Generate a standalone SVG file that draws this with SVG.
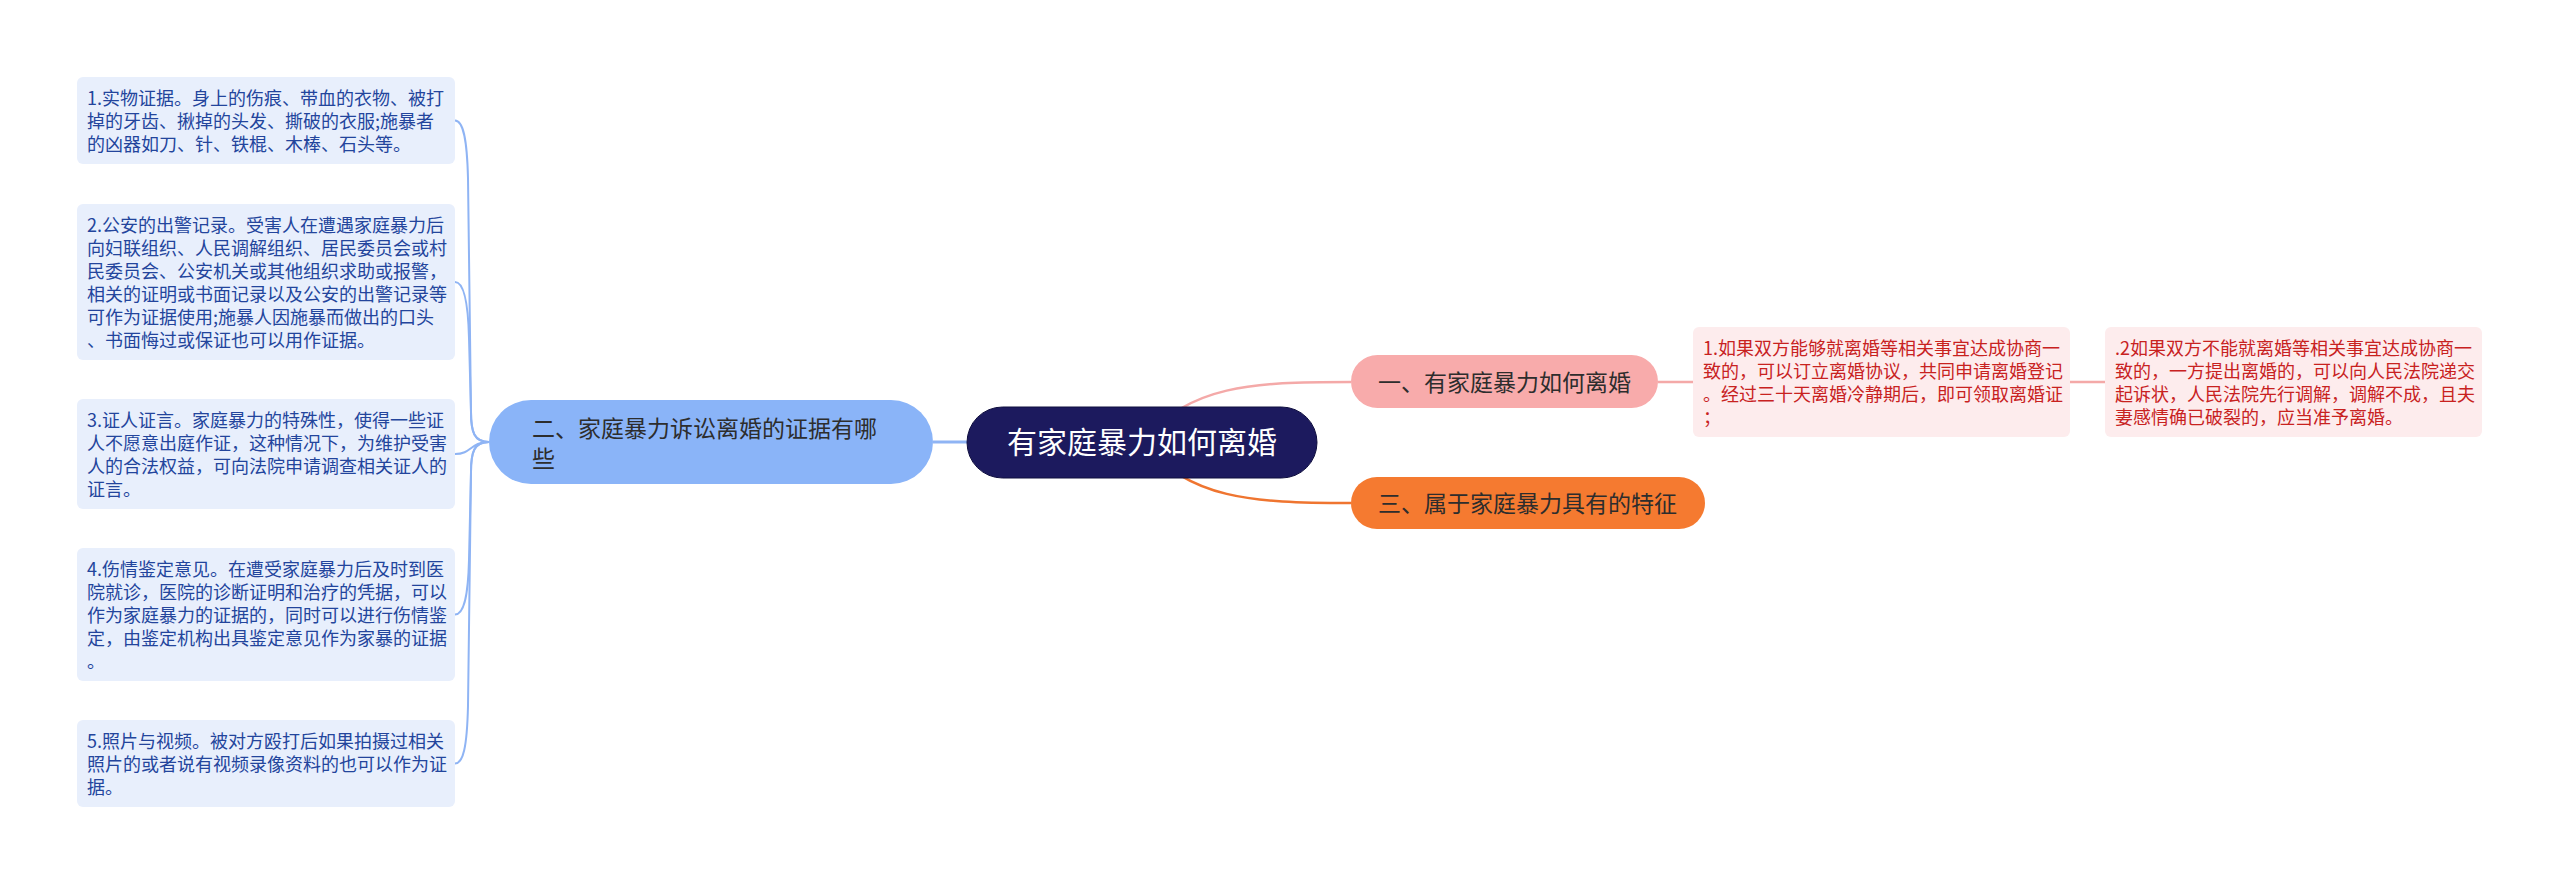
<svg xmlns="http://www.w3.org/2000/svg" width="2560" height="885" viewBox="0 0 2560 885">
<style>
text{font-family:"Noto Sans CJK SC","Noto Sans",sans-serif;}
.lbox{fill:#e8effc;}
.ltxt{font-size:18px;fill:#23459c;}
.rbox{fill:#fdeced;}
.rtxt{font-size:18px;fill:#c8221f;}
.sub{font-size:23px;fill:#2d2d2d;}
.cb{fill:none;stroke:#8fb4f4;stroke-width:2;}
.cp{fill:none;stroke:#f4a9a8;stroke-width:2.5;}
</style>
<rect width="2560" height="885" fill="#ffffff"/>
<g id="connectors">
<path class="cb" d="M489 442 C474 442,471 432,471 412 L468 178 C467 138,463 120.5,455 120.5"/>
<path class="cb" d="M489 442 C474 442,471 432,471 412 L469 338 C468 298,463 282,455 282"/>
<path class="cb" d="M489 442 C470 442,472 454,455 454"/>
<path class="cb" d="M489 442 C474 442,471 452,471 472 L469 560 C468 600,463 614.5,455 614.5"/>
<path class="cb" d="M489 442 C474 442,471 452,471 472 L468 706 C467 748,463 763.5,455 763.5"/>
<path fill="none" stroke="#8fb4f4" stroke-width="3" d="M933 442 L967 442"/>
<path class="cp" d="M1142 442 C1190 385,1250 382,1351 382"/>
<path fill="none" stroke="#ef7530" stroke-width="2.5" d="M1142 442 C1190 499,1250 503,1351 503"/>
<path class="cp" d="M1658 382 L1693 382"/>
<path class="cp" d="M2070 382 L2105 382"/>
</g>
<g id="center">
<rect x="967" y="407" width="350" height="71" rx="35.5" fill="#1c1a5e" stroke="#0f0e3e" stroke-width="1"/>
<text x="1142" y="453" font-size="30" fill="#ffffff" text-anchor="middle">有家庭暴力如何离婚</text>
</g>
<g id="node-er">
<rect x="489" y="400" width="444" height="84" rx="42" fill="#8ab4f8"/>
<text class="sub" x="532" y="437">二、家庭暴力诉讼离婚的证据有哪</text>
<text class="sub" x="532" y="467">些</text>
</g>
<g id="node-yi">
<rect x="1351" y="355" width="307" height="53" rx="26.5" fill="#f8abab"/>
<text class="sub" x="1378" y="391">一、有家庭暴力如何离婚</text>
</g>
<g id="node-san">
<rect x="1351" y="477" width="354" height="52" rx="26" fill="#f57a30"/>
<text class="sub" x="1378" y="512">三、属于家庭暴力具有的特征</text>
</g>
<g id="leaf-l1">
<rect class="lbox" x="77" y="77" width="378" height="87" rx="6"/>
<text class="ltxt" x="87" y="105">1.实物证据。身上的伤痕、带血的衣物、被打</text>
<text class="ltxt" x="87" y="128">掉的牙齿、揪掉的头发、撕破的衣服;施暴者</text>
<text class="ltxt" x="87" y="151">的凶器如刀、针、铁棍、木棒、石头等。</text>
</g>
<g id="leaf-l2">
<rect class="lbox" x="77" y="204" width="378" height="156" rx="6"/>
<text class="ltxt" x="87" y="232">2.公安的出警记录。受害人在遭遇家庭暴力后</text>
<text class="ltxt" x="87" y="255">向妇联组织、人民调解组织、居民委员会或村</text>
<text class="ltxt" x="87" y="278">民委员会、公安机关或其他组织求助或报警，</text>
<text class="ltxt" x="87" y="301">相关的证明或书面记录以及公安的出警记录等</text>
<text class="ltxt" x="87" y="324">可作为证据使用;施暴人因施暴而做出的口头</text>
<text class="ltxt" x="87" y="347">、书面悔过或保证也可以用作证据。</text>
</g>
<g id="leaf-l3">
<rect class="lbox" x="77" y="399" width="378" height="110" rx="6"/>
<text class="ltxt" x="87" y="427">3.证人证言。家庭暴力的特殊性，使得一些证</text>
<text class="ltxt" x="87" y="450">人不愿意出庭作证，这种情况下，为维护受害</text>
<text class="ltxt" x="87" y="473">人的合法权益，可向法院申请调查相关证人的</text>
<text class="ltxt" x="87" y="496">证言。</text>
</g>
<g id="leaf-l4">
<rect class="lbox" x="77" y="548" width="378" height="133" rx="6"/>
<text class="ltxt" x="87" y="576">4.伤情鉴定意见。在遭受家庭暴力后及时到医</text>
<text class="ltxt" x="87" y="599">院就诊，医院的诊断证明和治疗的凭据，可以</text>
<text class="ltxt" x="87" y="622">作为家庭暴力的证据的，同时可以进行伤情鉴</text>
<text class="ltxt" x="87" y="645">定，由鉴定机构出具鉴定意见作为家暴的证据</text>
<text class="ltxt" x="87" y="668">。</text>
</g>
<g id="leaf-l5">
<rect class="lbox" x="77" y="720" width="378" height="87" rx="6"/>
<text class="ltxt" x="87" y="748">5.照片与视频。被对方殴打后如果拍摄过相关</text>
<text class="ltxt" x="87" y="771">照片的或者说有视频录像资料的也可以作为证</text>
<text class="ltxt" x="87" y="794">据。</text>
</g>
<g id="leaf-r1">
<rect class="rbox" x="1693" y="327" width="377" height="110" rx="6"/>
<text class="rtxt" x="1703" y="355">1.如果双方能够就离婚等相关事宜达成协商一</text>
<text class="rtxt" x="1703" y="378">致的，可以订立离婚协议，共同申请离婚登记</text>
<text class="rtxt" x="1703" y="401">。经过三十天离婚冷静期后，即可领取离婚证</text>
<text class="rtxt" x="1703" y="424">；</text>
</g>
<g id="leaf-r2">
<rect class="rbox" x="2105" y="327" width="377" height="110" rx="6"/>
<text class="rtxt" x="2115" y="355">.2如果双方不能就离婚等相关事宜达成协商一</text>
<text class="rtxt" x="2115" y="378">致的，一方提出离婚的，可以向人民法院递交</text>
<text class="rtxt" x="2115" y="401">起诉状，人民法院先行调解，调解不成，且夫</text>
<text class="rtxt" x="2115" y="424">妻感情确已破裂的，应当准予离婚。</text>
</g>
</svg>
